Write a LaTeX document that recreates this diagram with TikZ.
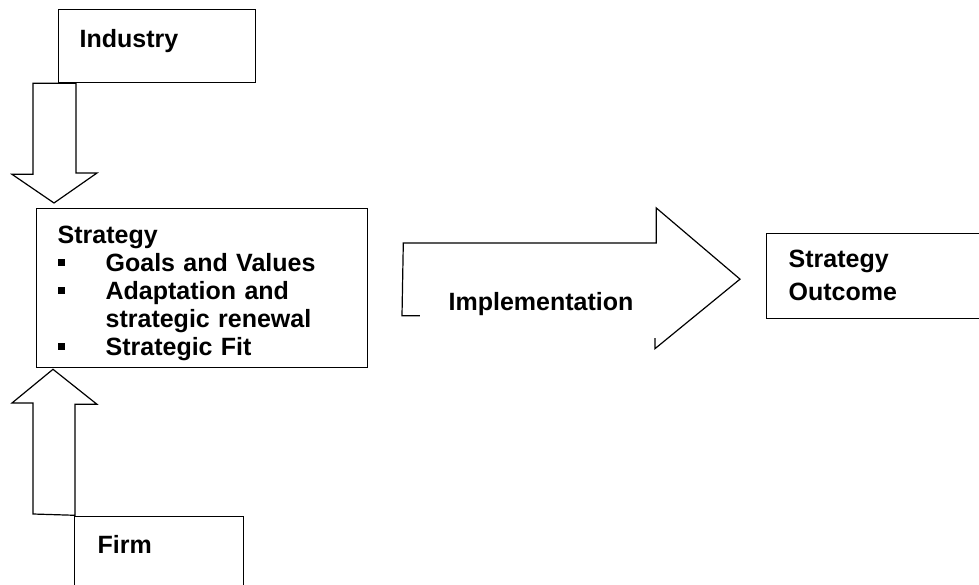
\documentclass[tikz,border=0pt]{standalone}
\usepackage{fontspec}
\setmainfont{Liberation Sans}
\usepackage{tikz}
\usetikzlibrary{positioning, calc}

\newcommand{\sqitem}{\makebox[48pt][l]{\rule[6pt]{7pt}{7pt}}}

\begin{document}
\begin{tikzpicture}[
            x=1pt, y=-1pt,
            box/.style={draw=black, line width=1.3pt, fill=white, anchor=north west, align=left, inner ysep=0pt, font=\fontsize{25}{28}\selectfont\bfseries},
            blockarrow/.style={draw=black, line width=1.2pt, line join=miter}
        ]
        \clip (0,0) rectangle (979,585);

        \node[box, inner xsep=21pt, text width=155pt, text height=38pt, text depth=35pt] (industry) at (58,9) {Industry};
        \node[box, inner xsep=21pt, text width=289pt, text height=35pt, text depth=124pt] (strategy) at (36,208)
            {Strategy\\ \sqitem Goals and Values\\ \sqitem Adaptation and\\ \hspace*{48pt}strategic renewal\\ \sqitem Strategic Fit};
        \node[box, inner xsep=23pt, text width=123pt, text height=37pt, text depth=100pt] (firm) at (74,516) {Firm};
        \node[box, inner xsep=22pt, text width=216pt, text height=34pt, text depth=51pt, font=\fontsize{25}{33}\selectfont\bfseries] (outcome) at (766,233) {Strategy\\ Outcome};

        % industry -> strategy
        \draw[blockarrow] ($(industry.south west)+(-25,0)$) -- ++(0,91) -- ++(-21,0)
            -- ($(strategy.north west)+(18,-5)$) -- ++(43,-30) -- ++(-21,0) |- (industry.south west) -- cycle;
        % firm -> strategy
        \draw[blockarrow] ($(firm.north west)+(-41,-2)$) -- ++(0,-111) -- ++(-21,0)
            -- ($(strategy.south west)+(17,1)$) -- ++(44,35) -- ++(-22,0) -- ++(0,111) -- cycle;
        % strategy -> outcome
        \draw[blockarrow] ($(strategy.north east)+(35,35)$) -- ++(253,0) -- ++(0,-35)
            -- ($(outcome.west)+(-26,3)$) -- ++(-85,69.5) -- ++(0,-33) -- ++(-253,0) -- cycle;

        \node[box, draw=none, inner xsep=29pt, text width=180pt, text height=30pt, text depth=27pt] (impl) at (419,280) {\mbox{Implementation}};

\end{tikzpicture}
\end{document}
